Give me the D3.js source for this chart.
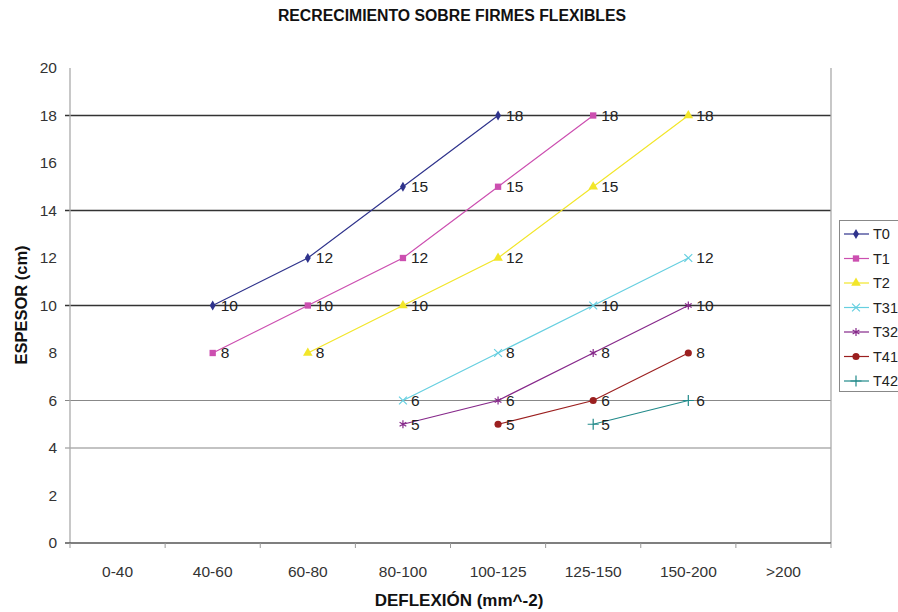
<!DOCTYPE html>
<html><head><meta charset="utf-8">
<script src="https://cdn.jsdelivr.net/npm/d3@7"></script>
<style>body{margin:0;background:#fff;}svg{font-family:"Liberation Sans",Arial,sans-serif;}</style>
</head><body>
<svg id="c" width="898" height="612"></svg>
<script>
const categories = ["0-40","40-60","60-80","80-100","100-125","125-150","150-200",">200"];
const seriesNames = ["T0","T1","T2","T31","T32","T41","T42"];
const T0  = [null,10,12,15,18,null,null,null];
const T1  = [null,8,10,12,15,18,null,null];
const T2  = [null,null,8,10,12,15,18,null];
const T31 = [null,null,null,6,8,10,12,null];
const T32 = [null,null,null,5,6,8,10,null];
const T41 = [null,null,null,null,5,6,8,null];
const T42 = [null,null,null,null,null,5,6,null];
const yTicks = [0,2,4,6,8,10,12,14,16,18,20];
const darkGrid = [18,14,10];
const lightGrid = [6,4];
const colors = ["#2f338c","#cc4fb0","#f2e62a","#66cfe0","#86288a","#9b1f1f","#228a8a"];
const symbols = ["diamond","square","triangle","x","star","circle","plus"];
const values = [T0,T1,T2,T31,T32,T41,T42];

const svg = d3.select("#c");
const L=70,R=831,T=68,B=543;
const x = d3.scaleBand().domain(categories).range([L,R]);
const y = d3.scaleLinear().domain([0,20]).range([B,T]);

// title
svg.append("text").attr("x",452).attr("y",21).attr("text-anchor","middle")
  .attr("font-weight","bold").attr("font-size","15.8px").attr("fill","#111").text("RECRECIMIENTO SOBRE FIRMES FLEXIBLES");

// gridlines
darkGrid.forEach(v=>svg.append("line").attr("x1",L-5).attr("x2",R).attr("y1",y(v)).attr("y2",y(v)).attr("stroke","#333").attr("stroke-width",1.3));
lightGrid.forEach(v=>svg.append("line").attr("x1",L-5).attr("x2",R).attr("y1",y(v)).attr("y2",y(v)).attr("stroke","#888").attr("stroke-width",1.1));

// axes lines
svg.append("line").attr("x1",L).attr("x2",L).attr("y1",T).attr("y2",B).attr("stroke","#aaa").attr("stroke-width",1.3);
svg.append("line").attr("x1",R).attr("x2",R).attr("y1",T).attr("y2",B).attr("stroke","#aaa").attr("stroke-width",1.3);

// y tick labels
svg.append("g").selectAll("text").data(yTicks).join("text")
  .attr("x",57).attr("y",d=>y(d)).attr("dy","0.35em").attr("text-anchor","end")
  .attr("font-size","15.5px").attr("fill","#333").text(d=>d);

// x axis
const xAxis = d3.axisBottom(x).tickSize(0).tickPadding(23);
const gx = svg.append("g").attr("transform",`translate(0,${B})`).call(xAxis);
gx.select(".domain").remove();
gx.selectAll("text").attr("font-size","15.5px").attr("fill","#333").attr("font-family","Liberation Sans, Arial, sans-serif");
svg.append("line").attr("x1",L-5).attr("x2",R).attr("y1",B).attr("y2",B).attr("stroke","#555").attr("stroke-width",1.3);
const bounds = categories.map(c=>x(c)).concat([R]);
svg.append("g").selectAll("line").data(bounds).join("line")
  .attr("x1",d=>d).attr("x2",d=>d).attr("y1",B).attr("y2",B+5).attr("stroke","#999");

// axis titles
svg.append("text").attr("x",459).attr("y",606).attr("text-anchor","middle").attr("font-weight","bold").attr("font-size","17px").attr("fill","#111").text("DEFLEXIÓN (mm^-2)");
svg.append("text").attr("transform","translate(27,305) rotate(-90)").attr("text-anchor","middle").attr("font-weight","bold").attr("font-size","16.5px").attr("fill","#111").text("ESPESOR (cm)");

function sym(name,size){
  const m={diamond:d3.symbolDiamond,square:d3.symbolSquare,triangle:d3.symbolTriangle,x:d3.symbolTimes,star:d3.symbolAsterisk,circle:d3.symbolCircle,plus:d3.symbolPlus};
  return d3.symbol(m[name],size)();
}
const strokeSyms = new Set(["x","star","plus"]);
const symSize = s => strokeSyms.has(s)?42:(s==="diamond"?30:40);

const line = d3.line().defined(d=>d.v!=null).x(d=>x(d.c)+x.bandwidth()/2).y(d=>y(d.v));
values.forEach((vals,i)=>{
  const pts = categories.map((c,j)=>({c,v:vals[j]}));
  const g = svg.append("g");
  g.append("path").datum(pts).attr("d",line).attr("fill","none").attr("stroke",colors[i]).attr("stroke-width",1.2);
  const valid = pts.filter(d=>d.v!=null);
  g.selectAll("path.m").data(valid).join("path").attr("class","m")
    .attr("transform",d=>`translate(${x(d.c)+x.bandwidth()/2},${y(d.v)})`)
    .attr("d",sym(symbols[i], symSize(symbols[i])))
    .attr("fill",strokeSyms.has(symbols[i])?"none":colors[i])
    .attr("stroke",colors[i]).attr("stroke-width",strokeSyms.has(symbols[i])?1.2:0);
  g.selectAll("text").data(valid).join("text")
    .attr("x",d=>x(d.c)+x.bandwidth()/2+8).attr("y",d=>y(d.v)).attr("dy","0.35em")
    .attr("font-size","15.5px").attr("fill","#222").text(d=>d.v);
});

// legend
const lg = svg.append("g");
lg.append("rect").attr("x",839.5).attr("y",220.5).attr("width",70).attr("height",171).attr("fill","#fff").attr("stroke","#888");
seriesNames.forEach((n,i)=>{
  const yy = 234 + i*24.5;
  lg.append("line").attr("x1",844).attr("x2",869).attr("y1",yy).attr("y2",yy).attr("stroke",colors[i]).attr("stroke-width",1.2);
  lg.append("path").attr("transform",`translate(856,${yy})`)
    .attr("d",sym(symbols[i], symSize(symbols[i])))
    .attr("fill",strokeSyms.has(symbols[i])?"none":colors[i])
    .attr("stroke",colors[i]).attr("stroke-width",strokeSyms.has(symbols[i])?1.2:0);
  lg.append("text").attr("x",873).attr("y",yy).attr("dy","0.35em").attr("font-size","14.5px").attr("fill","#222").text(n);
});
</script>
</body></html>
